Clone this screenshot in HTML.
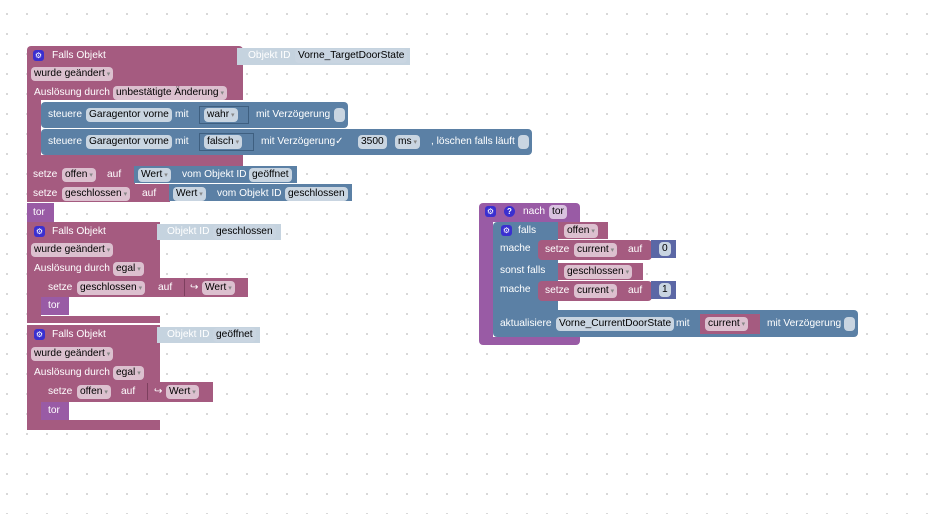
<!DOCTYPE html>
<html><head><meta charset="utf-8"><style>
body{margin:0;width:937px;height:514px;overflow:hidden;background:#fff;
background-image:radial-gradient(circle,#d0d0d0 0.8px,transparent 1.2px);background-size:20px 20px;background-position:-3px 4px;
font-family:"Liberation Sans",sans-serif;font-size:10.2px}
div{position:absolute;box-sizing:border-box}
.m{background:#a55b80}.bl{background:#5b80a5}.p{background:#995ba5}.lb{background:#c5d3df}.n{background:#5b67a5}
.t{color:#fff;white-space:nowrap;line-height:14px;height:14px}
.f{background:#dcc0cf;color:#000;border-radius:4px;padding:0 3px;line-height:14px;height:14px;white-space:nowrap}
.fb{background:#c9d5e1;color:#000;border-radius:4px;padding:0 3px;line-height:14px;height:14px;white-space:nowrap}
.ic{background:#3a2fd0;border-radius:3px;width:11px;height:11px;color:#fff;font-size:8px;text-align:center;line-height:11px}
.q{background:#3a2fd0;border-radius:50%;width:11px;height:11px;color:#fff;font-size:8px;text-align:center;line-height:11px;font-weight:bold}
.dd::after{content:" ▾";font-size:7px;color:#888}
</style></head><body>
<!-- Block 1 -->
<div class="m" style="left:27px;top:46px;width:216px;height:120px;border-radius:4px 4px 0 0"></div>
<div style="left:41px;top:100px;width:202px;height:55px;background:#fff"></div>
<div class="lb" style="left:237px;top:48px;width:173px;height:17px"></div>
<div class="t" style="left:248px;top:49px">Objekt ID</div>
<div class="fb" style="left:295px;top:49px">Vorne_TargetDoorState</div>
<div class="ic" style="left:33px;top:50px">⚙</div>
<div class="t" style="left:52px;top:49px">Falls Objekt</div>
<div class="f dd" style="left:31px;top:67px">wurde geändert</div>
<div class="t" style="left:34px;top:86px">Auslösung durch</div>
<div class="f dd" style="left:113px;top:86px">unbestätigte Änderung</div>
<div class="bl" style="left:41px;top:102px;width:307px;height:26px;border-radius:4px"></div>
<div class="t" style="left:48px;top:108px">steuere</div>
<div class="fb" style="left:86px;top:108px">Garagentor vorne</div>
<div class="t" style="left:175px;top:108px">mit</div>
<div style="left:199px;top:106px;width:50px;height:18px;border:1px solid #3e5f80"></div>
<div class="fb dd" style="left:204px;top:108px">wahr</div>
<div class="t" style="left:256px;top:108px">mit Verzögerung</div>
<div class="fb" style="left:334px;top:108px;width:11px;padding:0"></div>
<div class="bl" style="left:41px;top:129px;width:491px;height:26px;border-radius:4px"></div>
<div class="t" style="left:48px;top:135px">steuere</div>
<div class="fb" style="left:86px;top:135px">Garagentor vorne</div>
<div class="t" style="left:175px;top:135px">mit</div>
<div style="left:199px;top:133px;width:55px;height:18px;border:1px solid #3e5f80"></div>
<div class="fb dd" style="left:204px;top:135px">falsch</div>
<div class="t" style="left:261px;top:135px">mit Verzögerung✓</div>
<div class="fb" style="left:358px;top:135px">3500</div>
<div class="fb dd" style="left:395px;top:135px">ms</div>
<div class="t" style="left:431px;top:135px">, löschen falls läuft</div>
<div class="fb" style="left:518px;top:135px;width:11px;padding:0"></div>
<div class="m" style="left:27px;top:166px;width:108px;height:18px"></div>
<div class="t" style="left:33px;top:168px">setze</div>
<div class="f dd" style="left:62px;top:168px">offen</div>
<div class="t" style="left:107px;top:168px">auf</div>
<div class="bl" style="left:134px;top:166px;width:163px;height:17px"></div>
<div class="fb dd" style="left:138px;top:168px">Wert</div>
<div class="t" style="left:182px;top:168px">vom Objekt ID</div>
<div class="fb" style="left:249px;top:168px">geöffnet</div>
<div class="m" style="left:27px;top:184px;width:143px;height:18px"></div>
<div class="t" style="left:33px;top:187px">setze</div>
<div class="f dd" style="left:62px;top:187px">geschlossen</div>
<div class="t" style="left:142px;top:187px">auf</div>
<div class="bl" style="left:169px;top:184px;width:183px;height:17px"></div>
<div class="fb dd" style="left:173px;top:187px">Wert</div>
<div class="t" style="left:217px;top:187px">vom Objekt ID</div>
<div class="fb" style="left:285px;top:187px">geschlossen</div>
<div class="p" style="left:27px;top:203px;width:27px;height:19px"></div>
<div class="t" style="left:33px;top:206px">tor</div>
<!-- Block 2 -->
<div class="m" style="left:27px;top:222px;width:133px;height:101px"></div>
<div style="left:41px;top:278px;width:119px;height:38px;background:#fff"></div>
<div class="lb" style="left:157px;top:224px;width:124px;height:16px"></div>
<div class="t" style="left:167px;top:225px">Objekt ID</div>
<div class="fb" style="left:213px;top:225px">geschlossen</div>
<div class="ic" style="left:34px;top:226px">⚙</div>
<div class="t" style="left:52px;top:225px">Falls Objekt</div>
<div class="f dd" style="left:31px;top:243px">wurde geändert</div>
<div class="t" style="left:34px;top:262px">Auslösung durch</div>
<div class="f dd" style="left:113px;top:262px">egal</div>
<div class="m" style="left:41px;top:278px;width:207px;height:19px"></div>
<div class="t" style="left:48px;top:281px">setze</div>
<div class="f dd" style="left:77px;top:281px">geschlossen</div>
<div class="t" style="left:158px;top:281px">auf</div>
<div style="left:184px;top:279px;width:1px;height:17px;background:#7d3f5e"></div>
<div class="t" style="left:190px;top:281px">↪</div>
<div class="f dd" style="left:202px;top:281px">Wert</div>
<div class="p" style="left:41px;top:297px;width:28px;height:18px"></div>
<div class="t" style="left:48px;top:299px">tor</div>
<!-- Block 3 -->
<div class="m" style="left:27px;top:325px;width:133px;height:105px"></div>
<div style="left:41px;top:382px;width:119px;height:38px;background:#fff"></div>
<div class="lb" style="left:157px;top:327px;width:103px;height:16px"></div>
<div class="t" style="left:167px;top:328px">Objekt ID</div>
<div class="fb" style="left:213px;top:328px">geöffnet</div>
<div class="ic" style="left:34px;top:329px">⚙</div>
<div class="t" style="left:52px;top:328px">Falls Objekt</div>
<div class="f dd" style="left:31px;top:347px">wurde geändert</div>
<div class="t" style="left:34px;top:366px">Auslösung durch</div>
<div class="f dd" style="left:113px;top:366px">egal</div>
<div class="m" style="left:41px;top:382px;width:172px;height:20px"></div>
<div class="t" style="left:48px;top:385px">setze</div>
<div class="f dd" style="left:77px;top:385px">offen</div>
<div class="t" style="left:121px;top:385px">auf</div>
<div style="left:147px;top:383px;width:1px;height:17px;background:#7d3f5e"></div>
<div class="t" style="left:154px;top:385px">↪</div>
<div class="f dd" style="left:166px;top:385px">Wert</div>
<div class="p" style="left:41px;top:402px;width:28px;height:18px"></div>
<div class="t" style="left:48px;top:404px">tor</div>
<!-- Right procedure -->
<div class="p" style="left:479px;top:203px;width:101px;height:142px;border-radius:4px"></div>
<div style="left:493px;top:222px;width:87px;height:115px;background:#fff"></div>
<div class="ic" style="left:485px;top:206px">⚙</div>
<div class="q" style="left:504px;top:206px">?</div>
<div class="t" style="left:523px;top:205px">nach</div>
<div class="f" style="left:549px;top:205px;background:#d9c2e0">tor</div>
<div class="bl" style="left:493px;top:222px;width:65px;height:89px;border-radius:4px 0 0 0"></div>
<div class="bl" style="left:493px;top:310px;width:365px;height:27px;border-radius:0 4px 4px 4px"></div>
<div class="ic" style="left:501px;top:225px">⚙</div>
<div class="t" style="left:518px;top:224px">falls</div>
<div class="m" style="left:558px;top:222px;width:50px;height:17px"></div>
<div class="f dd" style="left:564px;top:224px">offen</div>
<div class="t" style="left:500px;top:242px">mache</div>
<div class="m" style="left:538px;top:240px;width:114px;height:20px;border-radius:4px"></div>
<div class="t" style="left:545px;top:243px">setze</div>
<div class="f dd" style="left:574px;top:243px">current</div>
<div class="t" style="left:628px;top:243px">auf</div>
<div class="n" style="left:651px;top:240px;width:25px;height:18px"></div>
<div class="fb" style="left:659px;top:242px">0</div>
<div class="t" style="left:500px;top:264px">sonst falls</div>
<div class="m" style="left:558px;top:263px;width:85px;height:17px"></div>
<div class="f dd" style="left:564px;top:265px">geschlossen</div>
<div class="t" style="left:500px;top:283px">mache</div>
<div class="m" style="left:538px;top:281px;width:114px;height:20px;border-radius:4px"></div>
<div class="t" style="left:545px;top:284px">setze</div>
<div class="f dd" style="left:574px;top:284px">current</div>
<div class="t" style="left:628px;top:284px">auf</div>
<div class="n" style="left:651px;top:281px;width:25px;height:18px"></div>
<div class="fb" style="left:659px;top:283px">1</div>
<div class="t" style="left:500px;top:317px">aktualisiere</div>
<div class="fb" style="left:556px;top:317px">Vorne_CurrentDoorState</div>
<div class="t" style="left:676px;top:317px">mit</div>
<div class="m" style="left:700px;top:314px;width:60px;height:20px"></div>
<div class="f dd" style="left:705px;top:317px">current</div>
<div class="t" style="left:767px;top:317px">mit Verzögerung</div>
<div class="fb" style="left:844px;top:317px;width:11px;padding:0"></div>
</body></html>
